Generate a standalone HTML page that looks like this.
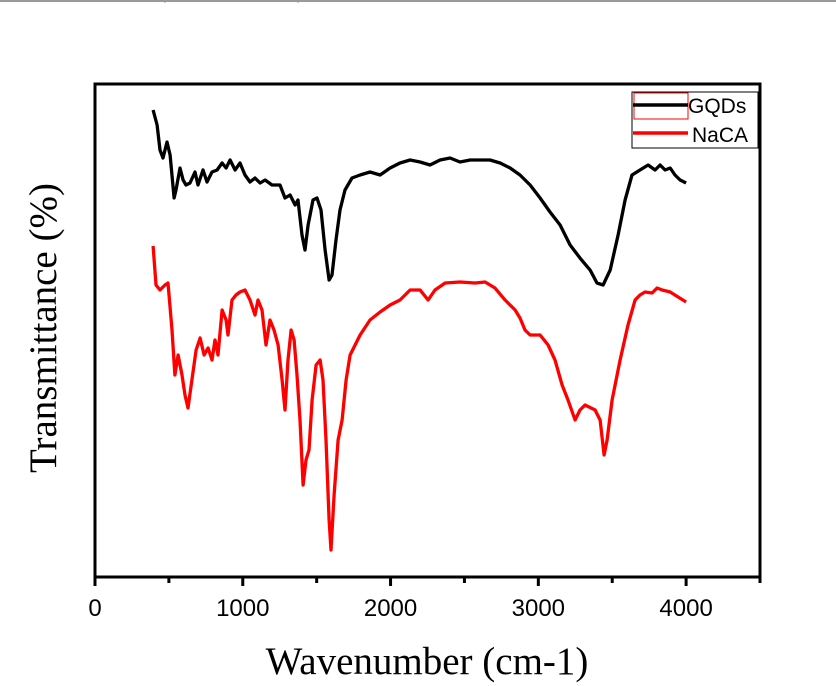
<!DOCTYPE html>
<html><head><meta charset="utf-8"><style>
body{margin:0;background:#fff;width:836px;height:686px;overflow:hidden}
svg{display:block}
</style></head><body>
<svg id="chart" width="836" height="686" xmlns="http://www.w3.org/2000/svg">
<line x1="0" y1="1" x2="836" y2="1" stroke="#999" stroke-width="2"/>
<line x1="165" y1="0" x2="165" y2="3" stroke="#999"/>
<line x1="298" y1="0" x2="298" y2="3" stroke="#999"/>
<g id="series"></g>
<rect x="95" y="84" width="665" height="493" fill="none" stroke="#000" stroke-width="3"/>
<g id="xticks"></g>
<text x="427" y="674" font-family="Liberation Serif, serif" font-size="39" text-anchor="middle">Wavenumber (cm-1)</text>
<text transform="translate(56,328) rotate(-90)" font-family="Liberation Serif, serif" font-size="39" text-anchor="middle">Transmittance (%)</text>
<g>
<rect x="632" y="92" width="126" height="56" fill="#fff" stroke="#000" stroke-width="1"/>
<rect x="634" y="93" width="54" height="26" fill="none" stroke="#f00" stroke-width="1"/>
<line x1="633" y1="105" x2="688" y2="105" stroke="#000" stroke-width="3.5"/>
<text x="688" y="113" font-family="Liberation Sans, sans-serif" font-size="21">GQDs</text>
<line x1="633" y1="133" x2="688" y2="133" stroke="#f00" stroke-width="3.5"/>
<text x="692" y="142" font-family="Liberation Sans, sans-serif" font-size="21">NaCA</text>
</g>
</svg>
<script>
const gqdsWn=[393,420,440,460,487,508,535,548,575,596,616,643,677,697,731,758,792,826,860,887,914,948,981,1015,1049,1083,1117,1151,1198,1252,1286,1320,1354,1374,1401,1421,1442,1475,1502,1529,1557,1584,1604,1631,1658,1692,1739,1794,1861,1929,1997,2064,2132,2200,2267,2335,2403,2470,2538,2606,2673,2741,2809,2876,2944,3012,3079,3147,3215,3282,3350,3397,3438,3486,3540,3587,3634,3688,3743,3790,3824,3858,3892,3925,3959,4000];
const gqdsT=[467,452,427,419,435,422,379,387,409,397,392,394,405,392,407,395,405,407,414,409,417,407,414,402,395,399,394,397,392,392,379,382,372,377,342,327,352,377,379,367,327,297,302,337,367,387,399,402,405,402,409,414,417,415,412,417,419,415,417,417,417,414,409,402,392,379,365,352,332,319,307,294,292,307,342,377,402,407,412,407,412,407,409,402,397,394];
const nacaWn=[393,413,440,474,494,521,541,562,589,609,629,656,684,711,738,765,792,812,832,860,887,900,927,954,981,1015,1049,1083,1103,1130,1157,1184,1211,1239,1266,1286,1306,1327,1347,1367,1387,1408,1428,1448,1469,1496,1523,1543,1563,1584,1597,1618,1645,1672,1699,1726,1794,1861,1929,1997,2064,2132,2200,2254,2301,2369,2470,2572,2640,2707,2775,2843,2876,2910,2944,3012,3066,3113,3161,3201,3249,3282,3316,3384,3418,3445,3465,3499,3553,3607,3655,3688,3722,3770,3804,3838,3892,3946,4000];
const nacaT=[331,292,287,292,294,247,202,222,202,182,169,197,227,239,222,229,217,237,222,267,257,242,277,282,285,287,277,262,277,267,232,257,247,232,197,167,217,247,237,202,157,92,117,127,177,212,217,197,137,57,27,82,137,157,197,222,242,257,265,272,277,287,287,277,287,294,295,294,295,289,277,267,259,247,242,242,232,217,192,177,157,167,172,167,157,122,137,177,217,252,277,282,285,284,289,287,285,280,275];
const xTicks=[0,1000,2000,3000,4000];
const xMinor=[500,1500,2500,3500,4500];
const NS='http://www.w3.org/2000/svg';
const X0=95,X1=760,Y0=577,Y1=84;
const xScale=v=>X0+(v-0)/4500*(X1-X0);
const yScale=v=>Y0-v/493*(Y0-Y1);
const sg=document.getElementById('series');
function drawLine(wn,t,color,name){
  const p=document.createElementNS(NS,'polyline');
  p.setAttribute('points',wn.map((w,i)=>xScale(w).toFixed(1)+','+yScale(t[i]).toFixed(1)).join(' '));
  p.setAttribute('fill','none');p.setAttribute('stroke',color);p.setAttribute('stroke-width','3.3');p.setAttribute('stroke-linejoin','round');
  
  
  sg.appendChild(p);
}
drawLine(gqdsWn,gqdsT,'#000','gqds-line');
drawLine(nacaWn,nacaT,'#f00','naca-line');
const xg=document.getElementById('xticks');
xTicks.forEach(v=>{
  const l=document.createElementNS(NS,'line');
  l.setAttribute('x1',xScale(v));l.setAttribute('x2',xScale(v));l.setAttribute('y1',Y0);l.setAttribute('y2',Y0+9);
  l.setAttribute('stroke','#000');l.setAttribute('stroke-width','3');
  
  
  xg.appendChild(l);
  const t=document.createElementNS(NS,'text');
  t.setAttribute('x',xScale(v));t.setAttribute('y',Y0+39);t.setAttribute('text-anchor','middle');
  t.setAttribute('font-family','Liberation Sans, sans-serif');t.setAttribute('font-size','24');
  t.textContent=v;
  
  
  xg.appendChild(t);
});
xMinor.forEach(v=>{
  const l=document.createElementNS(NS,'line');
  l.setAttribute('x1',xScale(v));l.setAttribute('x2',xScale(v));l.setAttribute('y1',Y0);l.setAttribute('y2',Y0+6);
  l.setAttribute('stroke','#000');l.setAttribute('stroke-width','3');
  
  
  xg.appendChild(l);
});
</script>
</body></html>
